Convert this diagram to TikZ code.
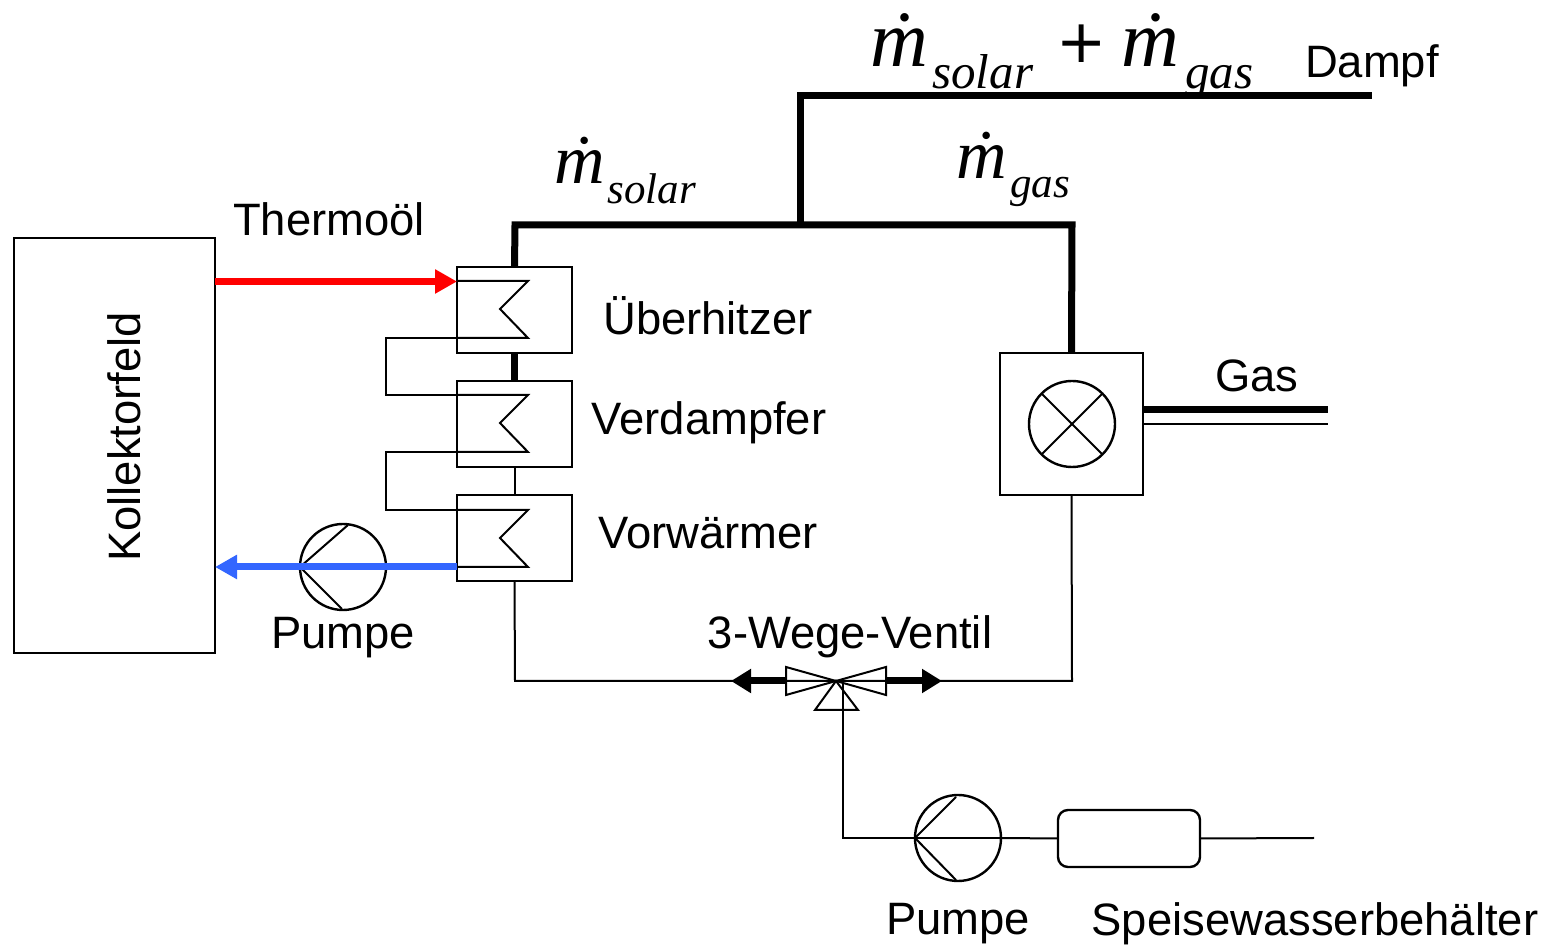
\documentclass[tikz,border=0pt]{standalone}
\usepackage{fontspec}
\setmainfont{Liberation Sans}
\newfontfamily\mathserif{Liberation Serif}[Ligatures=TeX]
\newfontfamily\plusfont{DejaVu Sans}
\usetikzlibrary{arrows.meta}
\definecolor{oilblue}{RGB}{51,102,255}
\tikzset{
    box/.style={draw, line width=1.2pt, inner sep=0pt, outer sep=0pt},
    tauscher/.style={box, minimum width=57.5pt, minimum height=43pt},
    pumpe/.style={box, circle, minimum size=43pt},
    schrift/.style={inner sep=0pt, font=\fontsize{22.7}{24}\selectfont},
    bigm/.style={inner sep=0pt, anchor=base west, font=\mathserif\itshape\fontsize{40}{42}\selectfont},
    smallm/.style={inner sep=0pt, anchor=base west, font=\mathserif\itshape\fontsize{35}{37}\selectfont},
    bigsub/.style={inner sep=0pt, anchor=base west, font=\mathserif\itshape\fontsize{24.5}{26}\selectfont},
    smallsub/.style={inner sep=0pt, anchor=base west, font=\mathserif\itshape\fontsize{21.5}{23}\selectfont},
    pipe/.style={line width=3.5pt},
    thin pipe/.style={line width=1pt},
    oil/.style={line width=3.5pt, -{Triangle[length=11pt,width=11.5pt]}},
    flow/.style={line width=3.5pt, -{Triangle[length=10pt,width=11.5pt]}}
}
\begin{document}
\begin{tikzpicture}[x=0.5pt, y=-0.5pt, line join=miter]
        \useasboundingbox (0,0) rectangle (1549,945);
        % boxes
        \node[box, minimum width=100.5pt, minimum height=207.5pt] (feld) at (114.5,445.5) {};
        \node[schrift, rotate=90] (feldtext) at (124,437) {Kollektorfeld};
        \node[tauscher] (ueber) at (514.5,310) {};
        \node[tauscher] (verd) at (514.5,424) {};
        \node[tauscher] (vor) at (514.5,538) {};
        \node[box, minimum width=71.5pt, minimum height=71pt] (brenner) at (1071.5,424) {};
        \node[pumpe] (flamme) at (1072,424) {};
        \node[pumpe] (oelpumpe) at (343,567) {};
        \node[pumpe] (wasserpumpe) at (958,838) {};
        \node[box, rounded corners=5pt, minimum width=71pt, minimum height=28.5pt] (behaelter) at (1129,838.5) {};
        % free ends
        \coordinate (ecke) at (515,225);
        \coordinate (ab) at (800,225);
        \coordinate (gasecke) at (1072,225);
        \coordinate (auf) at (800,96);
        \coordinate (dampf) at (1372,96);
        \coordinate (gasa) at (1328,410);
        \coordinate (gasb) at (1328,424);
        \coordinate (ventil) at (836,681);
        \coordinate (ventilL) at (786,681);
        \coordinate (ventilR) at (886,681);
        \coordinate (pfeilL) at (731,681);
        \coordinate (pfeilR) at (942,681);
        \coordinate (linksunten) at (515,681);
        \coordinate (rechtsunten) at (1072,681);
        \coordinate (zulauf) at (843,838);
        \coordinate (zulaufoben) at (843,681);
        \coordinate (ende) at (1314,838);
        % steam lines
        \draw[pipe] (ueber.north) -- (ecke) -- (gasecke) -- (brenner.north);
        \draw[pipe] (ab) -- (auf) -- (dampf);
        \draw[pipe] (ueber.south) -- (verd.north);
        \draw[thin pipe] (verd.south) -- (vor.north);
        % water lines
        \draw[thin pipe] (vor.south) -- (linksunten) -- (rechtsunten) -- (brenner.south);
        \draw[thin pipe] (zulaufoben) -- (zulauf) -- (wasserpumpe.west);
        \draw[thin pipe] (wasserpumpe.west) -- (wasserpumpe.east);
        \draw[thin pipe] (wasserpumpe.east) -- (behaelter.west);
        \draw[thin pipe] (behaelter.east) -- (ende);
        % gas
        \draw[pipe] (brenner.east |- gasa) -- (gasa);
        \draw[thin pipe] (brenner.east |- gasb) -- (gasb);
        % heat exchangers
        \foreach \y in {281,395,510} {
            \draw[thin pipe] (457,\y) -- ++(71,0) -- ++(-28,28) -- ++(28,29) -- ++(-71,0);
        }
        \draw[thin pipe] (457,338) -- (386,338) -- (386,395) -- (457,395);
        \draw[thin pipe] (457,452) -- (386,452) -- (386,510) -- (457,510);
        % pump symbols
        \draw[thin pipe] (348,525) -- (oelpumpe.west) -- (342,609);
        \draw[thin pipe] (956,797) -- (wasserpumpe.west) -- (956,880);
        \draw[thin pipe] (flamme.north west) -- (flamme.south east);
        \draw[thin pipe] (flamme.north east) -- (flamme.south west);
        % oil
        \draw[oil, red] (feld.east |- 0,281.5) -- (ueber.west |- 0,281.5);
        \draw[oil, oilblue] (vor.west |- 0,567) -- (feld.east |- 0,567);
        % valve
        \draw[flow] (ventilL) -- (pfeilL);
        \draw[flow] (ventilR) -- (pfeilR);
        \draw[thin pipe] (ventil) -- (786,667) -- (786,695) -- cycle;
        \draw[thin pipe] (ventil) -- (886,667) -- (886,695) -- cycle;
        \draw[thin pipe] (ventil) -- (815,710) -- (858,710) -- cycle;
        \draw[thin pipe] (ventilL) -- (ventilR);
        % texts
        \node[schrift] (thermo) at (329,219) {Thermoöl};
        \node[schrift] (ueberT) at (708,316) {Überhitzer};
        \node[schrift] (verdT) at (709,423) {Verdampfer};
        \node[schrift] (vorT) at (708,533) {Vorwärmer};
        \node[schrift] (pumpeA) at (343,638) {Pumpe};
        \node[schrift] (ventilT) at (850,637) {3-Wege-Ventil};
        \node[schrift] (pumpeB) at (958,924) {Pumpe};
        \node[schrift] (speise) at (1315,924) {Speisewasserbehälter};
        \node[schrift] (gasT) at (1257,376) {Gas};
        \node[schrift] (dampfT) at (1372,66) {Dampf};
        % mass flows
        \node[bigm] (m1) at (870,67) {\.m};
        \node[bigsub] (s1) at (932,89) {solar};
        \node[inner sep=0pt, anchor=base, font=\plusfont\fontsize{30}{32}\selectfont] (plus) at (1082,63) {+};
        \node[bigm] (m2) at (1121,67) {\.m};
        \node[bigsub] (s2) at (1185,89) {gas};
        \node[smallm] (m3) at (554,184) {\.m};
        \node[smallsub] (s3) at (607,204) {solar};
        \node[smallm] (m4) at (956,179) {\.m};
        \node[smallsub] (s4) at (1010,198) {gas};
\end{tikzpicture}
\end{document}
